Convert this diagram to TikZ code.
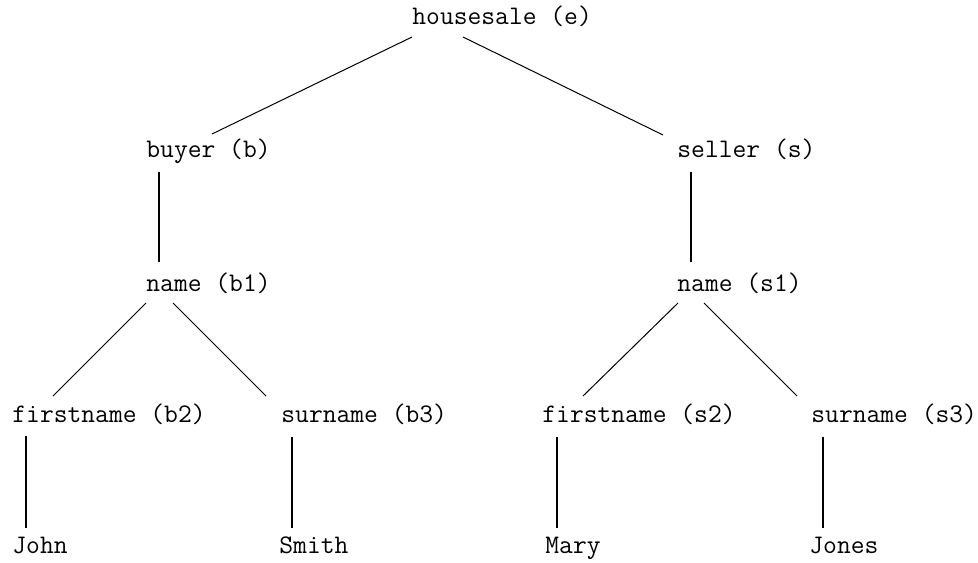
\documentclass[tikz,border=0pt]{standalone}
\usepackage{fontspec}
\usetikzlibrary{calc}
\tikzset{
  lbl/.style={anchor=base west, inner sep=0pt, font=\ttfamily\fontsize{13.4pt}{15pt}\selectfont},
  slant/.style={line width=0.5pt},
  stem/.style={line width=1.1pt},
}
\begin{document}
\begin{tikzpicture}[x=0.5pt, y=-0.5pt]
\useasboundingbox (0,0) rectangle (978,562);
% labels of the tree
\node[lbl] (e)  at (412,25)  {housesale (e)};
\node[lbl] (b)  at (146,157) {buyer (b)};
\node[lbl] (s)  at (677,157) {seller (s)};
\node[lbl] (b1) at (146,291) {name (b1)};
\node[lbl] (s1) at (677,291) {name (s1)};
\node[lbl] (b2) at (12,422)  {firstname (b2)};
\node[lbl] (b3) at (281,422) {surname (b3)};
\node[lbl] (s2) at (542,422) {firstname (s2)};
\node[lbl] (s3) at (811,422) {surname (s3)};
\node[lbl] (jn) at (12,553)  {John};
\node[lbl] (sm) at (279,553) {Smith};
\node[lbl] (my) at (545,553) {Mary};
\node[lbl] (jo) at (809,553) {Jones};
% branches
\draw[slant] ($(e.base west)+(0,12)$)  -- ($(b.base west)+(66,-23)$);
\draw[slant] ($(e.base west)+(51,12)$) -- ($(s.base west)+(-14,-22)$);
\draw[stem]  ($(b.base west)+(13,15)$) -- ($(b1.base west)+(13,-29)$);
\draw[stem]  ($(s.base west)+(14,15)$) -- ($(s1.base west)+(14,-29)$);
\draw[slant] ($(b1.base west)+(0,12)$)  -- ($(b2.base west)+(41,-26)$);
\draw[slant] ($(b1.base west)+(27,12)$) -- ($(b3.base west)+(-15,-26)$);
\draw[slant] ($(s1.base west)+(1,12)$)  -- ($(s2.base west)+(41,-26)$);
\draw[slant] ($(s1.base west)+(27,12)$) -- ($(s3.base west)+(-14,-26)$);
\draw[stem]  ($(b2.base west)+(14,14)$) -- ($(jn.base west)+(14,-25)$);
\draw[stem]  ($(b3.base west)+(11,15)$) -- ($(sm.base west)+(13,-25)$);
\draw[stem]  ($(s2.base west)+(15,15)$) -- ($(my.base west)+(12,-25)$);
\draw[stem]  ($(s3.base west)+(12,15)$) -- ($(jo.base west)+(14,-25)$);
\end{tikzpicture}
\end{document}
